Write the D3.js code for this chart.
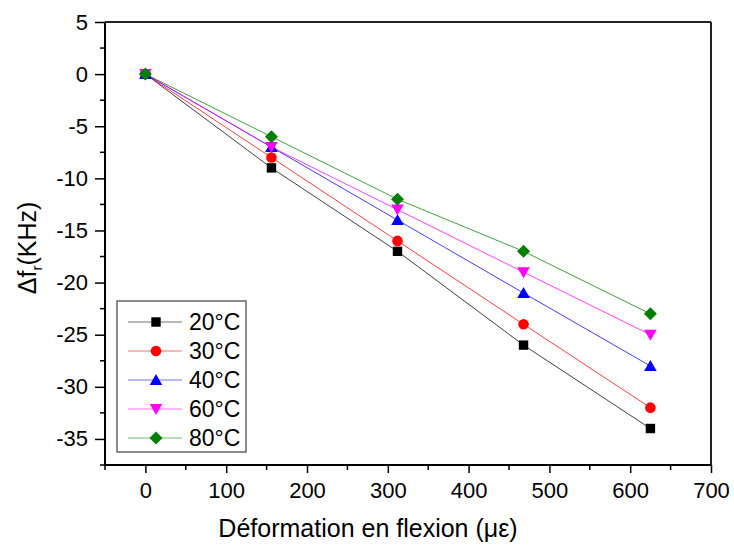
<!DOCTYPE html>
<html><head><meta charset="utf-8">
<script src="https://cdn.jsdelivr.net/npm/d3@7"></script>
<style>body{margin:0;background:#fff}svg{display:block}text{font-family:"Liberation Sans",Arial,sans-serif;fill:#000}</style>
</head><body><svg id="c" width="734" height="551"></svg>
<script>
const strain = [0, 156, 312, 468, 625];
const seriesNames = ["20°C", "30°C", "40°C", "60°C", "80°C"];
const s20 = [0, -9, -17, -26, -34];
const s30 = [0, -8, -16, -24, -32];
const s40 = [0, -7, -14, -21, -28];
const s60 = [0, -7, -13, -19, -25];
const s80 = [0, -6, -12, -17, -23];
const xTicks = [0, 100, 200, 300, 400, 500, 600, 700];
const yTicks = [5, 0, -5, -10, -15, -20, -25, -30, -35];
const colors = ["#000000", "#ff0000", "#0000ff", "#ff00ff", "#008000"];
const shapes = ["square", "circle", "up", "down", "diamond"];
const series = [s20, s30, s40, s60, s80];

const svg = d3.select("#c");
const L = 105, R = 711, T = 22, B = 465;
const x = d3.scaleLinear().domain([-50, 700]).range([L, R]);
const y = d3.scaleLinear().domain([-37.5, 5]).range([B, T]);

// frame top/right
svg.append("line").attr("x1", L).attr("x2", R).attr("y1", T).attr("y2", T).attr("stroke", "#222").attr("stroke-width", 2);
svg.append("line").attr("x1", R).attr("x2", R).attr("y1", T).attr("y2", B).attr("stroke", "#222").attr("stroke-width", 2);

// x axis
const xMinor = d3.range(-50, 701, 50).filter(v => v % 100 !== 0);
const gx = svg.append("g").attr("transform", `translate(0,${B})`);
gx.call(d3.axisBottom(x).tickValues(xTicks).tickSize(8).tickPadding(9).tickFormat(d => String(d)));
gx.selectAll("text").style("font-size", "22px").attr("fill", "#000");
gx.selectAll(".tick line").attr("stroke-width", 1.5);
gx.select(".domain").attr("stroke-width", 2).attr("d", `M${L},0H${R}`);
gx.selectAll(".mx").data(xMinor).enter().append("line").attr("class", "mx")
  .attr("x1", d => x(d)).attr("x2", d => x(d)).attr("y1", 0).attr("y2", 5).attr("stroke", "#000").attr("stroke-width", 1.5);

// y axis
const yMinor = d3.range(-37.5, 5.01, 2.5).filter(v => v % 5 !== 0);
const gy = svg.append("g").attr("transform", `translate(${L},0)`);
gy.call(d3.axisLeft(y).tickValues(yTicks).tickSize(10).tickPadding(7).tickFormat(d => String(d)));
gy.selectAll("text").style("font-size", "22px").attr("fill", "#000");
gy.selectAll(".tick line").attr("stroke-width", 1.5);
gy.select(".domain").attr("stroke-width", 2).attr("d", `M0,${T}V${B}`);
gy.selectAll(".my").data(yMinor).enter().append("line").attr("class", "my")
  .attr("x1", 0).attr("x2", -5).attr("y1", d => y(d)).attr("y2", d => y(d)).attr("stroke", "#000").attr("stroke-width", 1.5);

function marker(g, shape, color, cx, cy) {
  if (shape === "square") g.append("rect").attr("x", cx - 4.7).attr("y", cy - 4.7).attr("width", 9.4).attr("height", 9.4).attr("fill", color);
  else if (shape === "circle") g.append("circle").attr("cx", cx).attr("cy", cy).attr("r", 5.3).attr("fill", color);
  else if (shape === "up") g.append("path").attr("d", `M${cx},${cy - 6}L${cx + 6.3},${cy + 5}L${cx - 6.3},${cy + 5}Z`).attr("fill", color);
  else if (shape === "down") g.append("path").attr("d", `M${cx},${cy + 6}L${cx + 6.3},${cy - 5}L${cx - 6.3},${cy - 5}Z`).attr("fill", color);
  else g.append("path").attr("d", `M${cx},${cy - 6.5}L${cx + 6.5},${cy}L${cx},${cy + 6.5}L${cx - 6.5},${cy}Z`).attr("fill", color);
}

const line = d3.line().x((d, i) => x(strain[i])).y(d => y(d));
series.forEach((s, k) => {
  svg.append("path").datum(s).attr("d", line).attr("fill", "none").attr("stroke", colors[k]).attr("stroke-width", 1).attr("opacity", 0.75);
});
series.forEach((s, k) => {
  const g = svg.append("g");
  s.forEach((v, i) => marker(g, shapes[k], colors[k], x(strain[i]), y(v)));
});

// legend
const lg = svg.append("g");
lg.append("rect").attr("x", 117).attr("y", 301).attr("width", 129).attr("height", 151).attr("fill", "#fff").attr("stroke", "#666").attr("stroke-width", 1.5);
seriesNames.forEach((n, k) => {
  const ry = 322 + k * 29;
  lg.append("line").attr("x1", 128).attr("x2", 182).attr("y1", ry).attr("y2", ry).attr("stroke", colors[k]).attr("stroke-width", 1).attr("opacity", 0.55);
  marker(lg, shapes[k], colors[k], 156, ry);
  lg.append("text").attr("x", 189).attr("y", ry + 8).style("font-size", "23px").text(n);
});

// titles
svg.append("text").attr("x", 368).attr("y", 537).attr("text-anchor", "middle").style("font-size", "25px").text("Déformation en flexion (με)");
const yt = svg.append("text").attr("transform", "translate(36,248) rotate(-90)").attr("text-anchor", "middle").style("font-size", "25px");
yt.append("tspan").text("Δf");
yt.append("tspan").attr("dy", 6).style("font-size", "15px").text("r");
yt.append("tspan").attr("dy", -6).text("(KHz)");
</script></body></html>
